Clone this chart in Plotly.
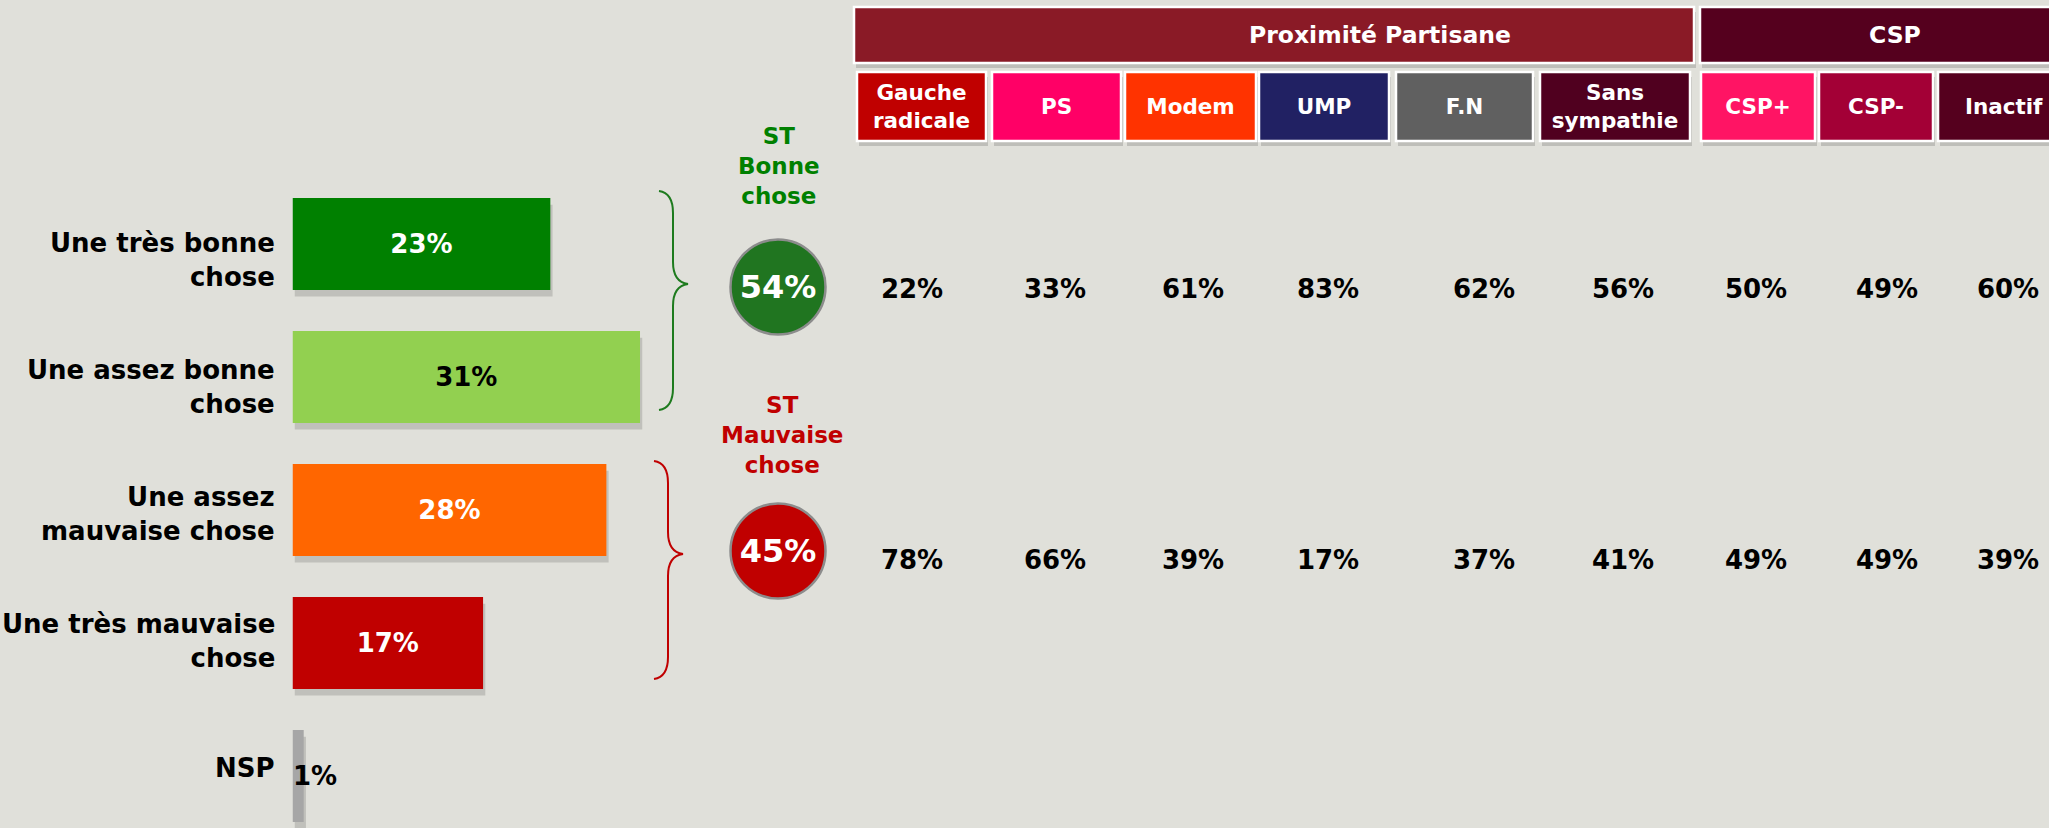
import plotly.graph_objects as go

# ---- values ------------------------------------------------------------
categories = [
    "Une très bonne<br>chose",
    "Une assez bonne<br>chose",
    "Une assez<br>mauvaise chose",
    "Une très mauvaise<br>chose",
    "NSP",
]
shares = [23, 31, 28, 17, 1]
bar_colors = ["#008000", "#92D050", "#FF6600", "#C00000", "#A6A6A6"]
bar_label_colors = ["white", "black", "white", "white", "black"]

totals = [54, 45]
total_labels = ["ST<br>Bonne<br>chose", "ST<br>Mauvaise<br>chose"]
total_colors = ["#207520", "#C00000"]
total_text_colors = ["#008000", "#C00000"]
brace_colors = ["#1E7B1E", "#C00000"]

groups = ["Proximité Partisane", "CSP"]
group_colors = ["#8A1A26", "#55001E"]
columns = ["Gauche<br>radicale", "PS", "Modem", "UMP", "F.N",
           "Sans<br>sympathie", "CSP+", "CSP-", "Inactif"]
column_colors = ["#C00000", "#FF0066", "#FF3300", "#212163", "#606060",
                 "#50001F", "#FF1464", "#A30036", "#55001E"]
good_by_column = [22, 33, 61, 83, 62, 56, 50, 49, 60]
bad_by_column = [78, 66, 39, 17, 37, 41, 49, 49, 39]

# ---- layout (canvas pixels) --------------------------------------------
W, H = 2049, 828
BG = "#E0E0DA"
FONT = "DejaVu Sans"

BAR_X0 = 292.5       # where the bars start
PX_PER_PT = 11.21    # pixels per percentage point
BAR_Y0 = 244         # centre of the first bar
BAR_STEP = 133       # distance between bar centres
BAR_H = 0.69         # bar thickness, share of the step
LABEL_RIGHT = 277    # right edge of the category labels

COL_X0 = [857, 992, 1125, 1259, 1396, 1540, 1701, 1819, 1938]
COL_X1 = [986, 1121, 1256, 1389, 1533, 1690, 1815, 1933, 2070]
VALUE_X = [912, 1055, 1193, 1328, 1484, 1623, 1756, 1887, 2008]
GROUP_X0 = [854, 1700]
GROUP_X1 = [1694, 2090]
GROUP_TEXT_X = [1380, 1895]
GROUP_Y = (7, 63)
SUB_Y = (72, 141)
ROW_Y = [291, 562]
CIRCLE_X = 778
CIRCLE_Y = [287, 551]
CIRCLE_TEXT_DY = 3
ST_X = [779, 782]
ST_Y = [166, 435]
BRACES = [  # x, top, tip, bottom
    (659, 191, 284, 410),
    (654, 461, 554, 679),
]


def brace_path(x, y_top, y_tip, y_bot, depth=14, tip=15, r=22):
    xm, xt = x + depth, x + depth + tip
    return (f"M {x},{y_top} Q {xm},{y_top + 2} {xm},{y_top + r} "
            f"L {xm},{y_tip - r} Q {xm},{y_tip - 2} {xt},{y_tip} "
            f"Q {xm},{y_tip + 2} {xm},{y_tip + r} "
            f"L {xm},{y_bot - r} Q {xm},{y_bot - 2} {x},{y_bot}")


def bold(size, color="black"):
    return dict(family=FONT, size=size, color=color, weight="bold")


col_centers = [(a + b) / 2 for a, b in zip(COL_X0, COL_X1)]
col_widths = [b - a for a, b in zip(COL_X0, COL_X1)]
grp_centers = [(a + b) / 2 for a, b in zip(GROUP_X0, GROUP_X1)]
grp_widths = [b - a for a, b in zip(GROUP_X0, GROUP_X1)]

fig = go.Figure()

# main bars (with a soft drop shadow behind them)
fig.add_trace(go.Bar(
    x=shares, y=categories, orientation="h", base=0.2,
    width=BAR_H, offset=-BAR_H / 2 + 0.05,
    marker=dict(color="rgba(0,0,0,0.14)", line_width=0), hoverinfo="skip",
))
fig.add_trace(go.Bar(
    x=shares, y=categories, orientation="h", width=BAR_H,
    marker=dict(color=bar_colors, line_width=0),
    text=[f"{v}%" for v in shares],
    textposition=["inside"] * 4 + ["none"],
    insidetextanchor="middle", textangle=0,
    insidetextfont=dict(family=FONT, size=26, color=bar_label_colors, weight="bold"),
    hoverinfo="skip",
))


# header boxes of the cross table
def header(xc, widths, y0, y1, colors, text=None, size=21.5):
    fig.add_trace(go.Bar(
        x=[x + 2 for x in xc], width=widths, base=y0 + 5, y=[y1 - y0] * len(xc),
        marker=dict(color="rgba(0,0,0,0.15)", line_width=0),
        xaxis="x2", yaxis="y2", hoverinfo="skip",
    ))
    fig.add_trace(go.Bar(
        x=xc, width=widths, base=y0, y=[y1 - y0] * len(xc),
        marker=dict(color=colors, line=dict(color="white", width=2.5)),
        text=text, textposition="inside" if text else "none",
        insidetextanchor="middle", textangle=0,
        insidetextfont=bold(size, "white"),
        xaxis="x2", yaxis="y2", hoverinfo="skip",
    ))


header(grp_centers, grp_widths, *GROUP_Y, group_colors)
header(col_centers, col_widths, *SUB_Y, column_colors, text=columns)

# total circles and their values
fig.add_trace(go.Scatter(
    x=[CIRCLE_X] * len(totals), y=CIRCLE_Y, mode="markers",
    marker=dict(size=95, color=total_colors, line=dict(color="#8C8C8C", width=2.5)),
    xaxis="x2", yaxis="y2", hoverinfo="skip",
))
fig.add_trace(go.Scatter(
    x=[CIRCLE_X] * len(totals), y=[y + CIRCLE_TEXT_DY for y in CIRCLE_Y], mode="text",
    text=[f"{v}%" for v in totals], textposition="middle center",
    textfont=bold(32, "white"), xaxis="x2", yaxis="y2", hoverinfo="skip",
))

# cross-table values
for row_y, row in zip(ROW_Y, [good_by_column, bad_by_column]):
    fig.add_trace(go.Scatter(
        x=VALUE_X, y=[row_y] * len(row), mode="text",
        text=[f"{v}%" for v in row], textposition="middle center",
        textfont=bold(26), xaxis="x2", yaxis="y2", hoverinfo="skip",
    ))

annotations = []
for i, cat in enumerate(categories):
    annotations.append(dict(
        x=LABEL_RIGHT / W, xref="paper", y=cat, yref="y",
        xanchor="right", yanchor="middle", align="right",
        yshift=6 * i - 16, text=cat, showarrow=False, font=bold(26),
    ))
annotations.append(dict(
    x=0, y=categories[-1], xref="x", yref="y", xanchor="left", xshift=-2,
    text=f"{shares[-1]}%", showarrow=False, font=bold(26),
))
for g, gx in zip(groups, GROUP_TEXT_X):
    annotations.append(dict(
        x=gx, y=(GROUP_Y[0] + GROUP_Y[1]) / 2, xref="x2", yref="y2",
        text=g, showarrow=False, font=bold(23.5, "white"),
    ))
for lab, color, x, y in zip(total_labels, total_text_colors, ST_X, ST_Y):
    annotations.append(dict(
        x=x, y=y, xref="x2", yref="y2", text=lab, showarrow=False,
        font=bold(23, color),
    ))

shapes = [
    dict(type="path", path=brace_path(*b), xref="x2", yref="y2",
         line=dict(color=c, width=2))
    for b, c in zip(BRACES, brace_colors)
]

fig.update_layout(
    width=W, height=H, margin=dict(l=0, r=0, t=0, b=0, pad=0),
    paper_bgcolor=BG, plot_bgcolor="rgba(0,0,0,0)",
    barmode="overlay", showlegend=False,
    xaxis=dict(domain=[BAR_X0 / W, (BAR_X0 + 40 * PX_PER_PT) / W], range=[0, 40],
               visible=False, fixedrange=True),
    yaxis=dict(type="category", categoryarray=categories,
               range=[(H - BAR_Y0) / BAR_STEP, -BAR_Y0 / BAR_STEP],
               visible=False, fixedrange=True),
    xaxis2=dict(domain=[0, 1], range=[0, W], anchor="y2", visible=False, fixedrange=True),
    yaxis2=dict(domain=[0, 1], range=[H, 0], anchor="x2", visible=False, fixedrange=True),
    annotations=annotations,
    shapes=shapes,
)

fig.write_html(
    "out.html",
    config={"displayModeBar": False},
    post_script="document.body.style.margin='0';document.body.style.overflow='hidden';",
)
